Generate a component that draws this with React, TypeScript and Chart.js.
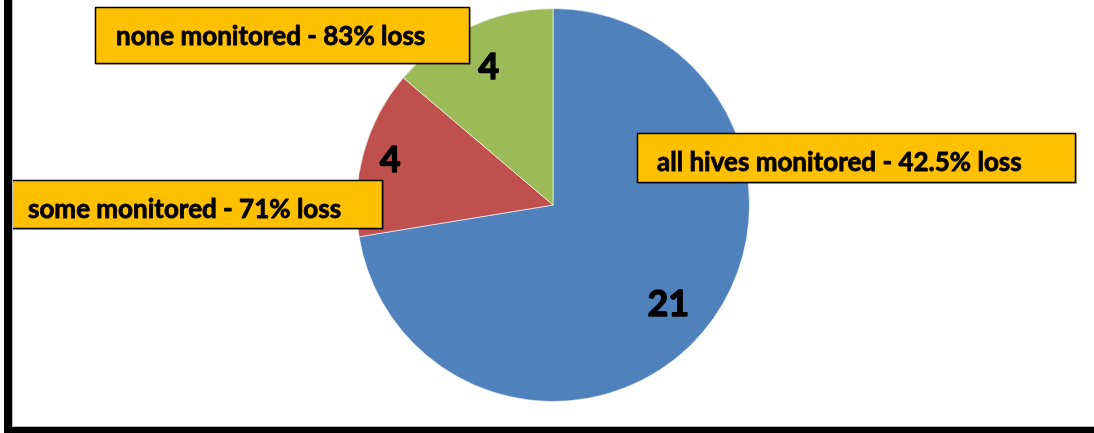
import React, { useEffect, useRef } from "react";
import { Chart, registerables } from "chart.js";

Chart.register(...registerables);

const categories = ["all hives monitored", "some monitored", "none monitored"];
const apiaries = [21, 4, 4];
const lossLabels = [
  "all hives monitored - 42.5% loss",
  "some monitored - 71% loss",
  "none monitored - 83% loss",
];
const sliceColors = ["#4F81BD", "#C0504D", "#9BBB59"];

// label boxes [x, y, w, h, textX, baselineY, textWidth]
const boxLayout = [
  [637, 133, 439, 50, 657, 171, 382],
  [8, 180, 375, 49, 28, 218, 327],
  [95, 7, 375, 57, 116, 45, 322],
];
const numberRadius = [0.77, 0.86, 0.78];

const FONT = "Lato, 'Open Sans', 'DejaVu Sans', sans-serif";

const overlay = {
  id: "overlay",
  afterDatasetsDraw(chart: any) {
    const ctx = chart.ctx;
    const W = chart.width;
    const H = chart.height;
    const meta = chart.getDatasetMeta(0);
    ctx.save();
    ctx.lineJoin = "round";
    // value numbers
    ctx.fillStyle = "#000";
    ctx.strokeStyle = "#000";
    ctx.textAlign = "center";
    ctx.textBaseline = "middle";
    ctx.font = `bold 36px ${FONT}`;
    ctx.lineWidth = 1.4;
    meta.data.forEach((arc: any, i: number) => {
      const p = arc.getProps(["x", "y", "startAngle", "endAngle", "outerRadius"], true);
      const mid = (p.startAngle + p.endAngle) / 2;
      const r = p.outerRadius * numberRadius[i];
      const x = p.x + Math.cos(mid) * r;
      const y = p.y + Math.sin(mid) * r + 1;
      ctx.fillText(String(apiaries[i]), x, y);
      ctx.strokeText(String(apiaries[i]), x, y);
    });
    // label boxes
    ctx.textAlign = "left";
    ctx.textBaseline = "alphabetic";
    boxLayout.forEach((b, i) => {
      const [x, y, w, h, tx, by, tw] = b;
      ctx.fillStyle = "rgba(0,0,0,0.25)";
      ctx.fillRect(x + 1, y + 1, w, h);
      ctx.fillStyle = "#FFC000";
      ctx.fillRect(x, y, w, h);
      ctx.strokeStyle = "#000";
      ctx.lineWidth = 1.5;
      ctx.strokeRect(x + 0.5, y + 0.5, w - 1, h - 1);
      ctx.font = `bold 100px ${FONT}`;
      const mw = ctx.measureText(lossLabels[i]).width;
      const fs = Math.min(26, (100 * (tw - 1)) / mw);
      ctx.font = `bold ${fs}px ${FONT}`;
      ctx.fillStyle = "#000";
      ctx.lineWidth = 0.8;
      ctx.fillText(lossLabels[i], tx, by);
      ctx.strokeText(lossLabels[i], tx, by);
    });
    // frame
    ctx.fillStyle = "#000";
    ctx.fillRect(4, 0, 8, H);
    ctx.fillRect(4, 427, W, 6);
    ctx.fillStyle = "#bbb";
    ctx.fillRect(12, 0, 1, 426);
    ctx.fillRect(12, 426, W, 1);
    ctx.restore();
  },
};

export default function App() {
  const ref = useRef<HTMLCanvasElement>(null);
  useEffect(() => {
    document.body.style.margin = "0";
    const chart = new Chart(ref.current!, {
      type: "pie",
      data: {
        labels: categories,
        datasets: [
          {
            data: apiaries,
            backgroundColor: sliceColors,
            borderColor: "rgba(255,255,255,0.6)",
            borderWidth: 1,
          },
        ],
      },
      options: {
        responsive: false,
        animation: false,
        layout: { padding: { left: 356, right: 344, top: 8, bottom: 31 } },
        plugins: { legend: { display: false }, tooltip: { enabled: false } },
      },
      plugins: [overlay],
    });
    return () => chart.destroy();
  }, []);
  return (
    <div style={{ width: 1094, height: 433, background: "#fff" }}>
      <canvas ref={ref} width={1094} height={433} style={{ display: "block" }} />
    </div>
  );
}
